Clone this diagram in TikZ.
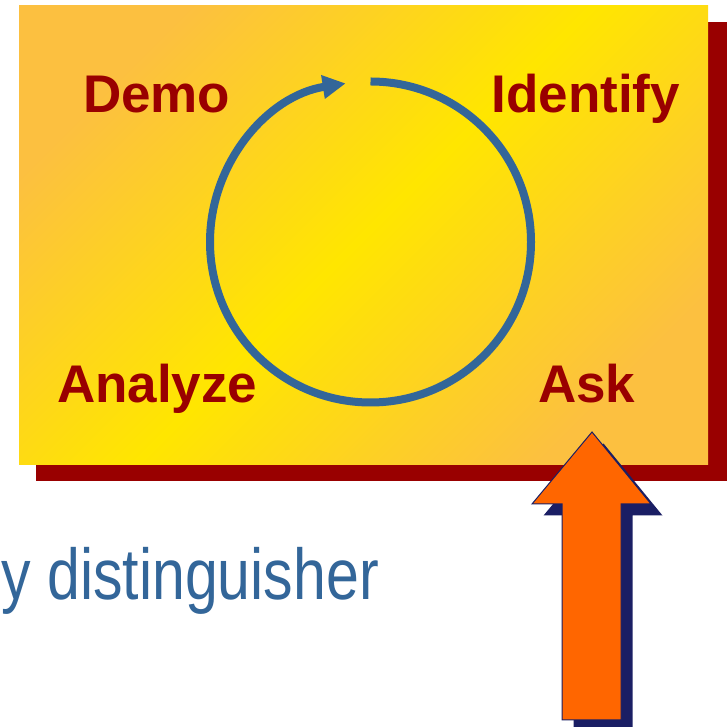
\documentclass[tikz,border=0pt]{standalone}
\usepackage{fontspec}
\setmainfont{Liberation Sans}
\newfontfamily\narrowfont[FakeStretch=0.82]{Liberation Sans}
\usetikzlibrary{arrows.meta}
\definecolor{shadowred}{RGB}{153,0,0}
\definecolor{labelred}{RGB}{153,0,0}
\definecolor{cornerorange}{RGB}{252,192,64}
\definecolor{bandyellow}{RGB}{255,230,0}
\definecolor{cyclecol}{RGB}{51,102,153}
\definecolor{textblue}{RGB}{51,102,153}
\definecolor{arroworange}{RGB}{255,102,0}
\definecolor{arrowshadow}{RGB}{26,30,100}
\begin{document}
\begin{tikzpicture}[x=1pt,y=1pt,
  lbltext/.style={text=labelred, font=\fontsize{53}{60}\selectfont\bfseries, inner sep=0pt, anchor=base}]
\useasboundingbox (0,0) rectangle (726,727);
% panel shadow and panel
\fill[shadowred] (36,246) rectangle (740,705);
\shade[top color=cornerorange, bottom color=cornerorange, middle color=bandyellow, shading angle=45] (19,262) rectangle (708,721);
% cycle arrow
\coordinate (c) at (370.5,485);
\draw[cyclecol, line width=8pt, -{Triangle[length=23pt,width=22.5pt]}] ([shift={(90:160.5)}]c) arc[start angle=90, end angle=-261.1, radius=160.5];
% labels
\node[lbltext] (demo) at (156.7,614.3) {Demo};
\node[lbltext] (identify) at (585.8,614.3) {Identify};
\node[lbltext] (analyze) at (157.2,324) {Analyze};
\node[lbltext] (ask) at (586.7,324) {Ask};
% subtitle text
\node[text=textblue, font=\narrowfont\fontsize{72}{80}\selectfont, anchor=base east, inner sep=0pt] (dist) at (379,127) {y distinguisher};
% block arrow with shadow
\fill[arrowshadow, shift={(11.5,-11.5)}] (592,295) -- (651,223) -- (621,223) -- (621,-20) -- (562,-20) -- (562,223) -- (532,223) -- cycle;
\filldraw[fill=arroworange, draw=arrowshadow, line width=1pt] (592,295) -- (651,223) -- (621,223) -- (621,7) -- (562,7) -- (562,223) -- (532,223) -- cycle;
\end{tikzpicture}
\end{document}
